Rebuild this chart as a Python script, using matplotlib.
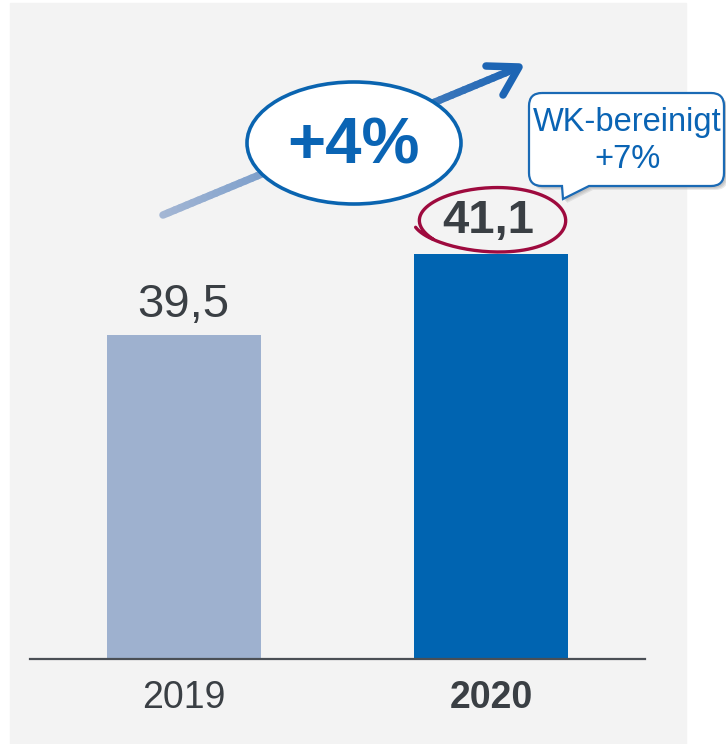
import numpy as np
import matplotlib
matplotlib.use("Agg")
import matplotlib.pyplot as plt
from matplotlib.patches import Rectangle, Ellipse, PathPatch
from matplotlib.path import Path
from matplotlib.collections import LineCollection

plt.rcParams['font.family'] = ['Liberation Sans', 'DejaVu Sans']

years = ["2019", "2020"]
values = [39.5, 41.1]
value_labels = ["39,5", "41,1"]
bar_colors = ["#9eb1cf", "#0064b1"]
growth_label = "+4%"
callout_lines = ["WK-bereinigt", "+7%"]

W, H = 726, 744
fig = plt.figure(figsize=(W / 100, H / 100), dpi=100)
fig.patch.set_facecolor("white")

# gray panel
fig.add_artist(Rectangle((10 / W, 0), (686 - 10) / W, (744 - 3) / H,
                         transform=fig.transFigure, color="#f3f3f3", zorder=-5))

# main bar axes: x 30..645 px, y 659..3 px
ax = fig.add_axes([30 / W, (H - 659) / H, (645 - 30) / W, (659 - 3) / H])
ax.set_facecolor("none")
x = np.arange(len(years))
ax.bar(x, values, width=0.5, color=bar_colors, zorder=2)
ax.set_xlim(-0.5, 1.5)
ax.set_ylim(33.1, 46.06)
for s in ["top", "right", "left"]:
    ax.spines[s].set_visible(False)
ax.spines["bottom"].set_color("#4a4f55")
ax.spines["bottom"].set_linewidth(1.6)
ax.set_yticks([])
ax.set_xticks(x)
ax.set_xticklabels(years, fontsize=27, color="#3a3f44")
ax.get_xticklabels()[1].set_fontweight("bold")
ax.tick_params(axis="x", length=0, pad=15)

ax.annotate(value_labels[0], (x[0], values[0]), xytext=(0, 6), textcoords="offset points",
            ha="center", va="bottom", fontsize=34, color="#3a3f44")
ax.annotate(value_labels[1], (x[1] - 0.01, values[1]), xytext=(0, 8), textcoords="offset points",
            ha="center", va="bottom", fontsize=34, color="#3a3f44", fontweight="bold")

# overlay in pixel coordinates
ov = fig.add_axes([0, 0, 1, 1], zorder=5)
ov.set_xlim(0, W)
ov.set_ylim(H, 0)
ov.axis("off")
ov.set_facecolor("none")

# gradient arrow
p0 = np.array([163, 215.0])
p1 = np.array([517, 68.0])
n = 60
ts = np.linspace(0, 1, n + 1)
pts = p0 + (p1 - p0) * ts[:, None]
segs = [[pts[i], pts[i + 1]] for i in range(n)]
c0 = np.array(matplotlib.colors.to_rgb("#a3b6d4"))
c1 = np.array(matplotlib.colors.to_rgb("#1d65b4"))
cols = [c0 + (c1 - c0) * t for t in ts[:-1]]
ov.add_collection(LineCollection(segs, colors=cols, linewidths=5.4, capstyle="round", zorder=1))
ov.plot([486, 519, 503], [66, 67, 95], color="#1d65b4", lw=5.4,
        solid_capstyle="round", solid_joinstyle="round", zorder=1)

# +4% ellipse
ov.add_patch(Ellipse((354, 143), 214, 122, facecolor="white", edgecolor="#0a64b0", lw=2.6, zorder=3))
ov.text(354, 146, growth_label, ha="center", va="center", fontsize=47, fontweight="bold",
        color="#0a64b4", zorder=4)

# hand-drawn red loop around 41,1
t = np.linspace(np.deg2rad(195), np.deg2rad(195 + 380), 200)
frac = (t - t[0]) / (t[-1] - t[0])
rx = 77 - 5 * frac
ry = 31 + 3 * frac
cx = 490 + 2 * frac
cy = 220 + 1 * frac
xs = cx + rx * np.cos(t)
ys = cy - ry * np.sin(t) - 6 * np.cos(t) * np.sin(t) * 0.5
ov.plot(xs, ys, color="#9e0a3e", lw=2.4, solid_capstyle="round", zorder=3)

# callout box
def callout_path(x0, y0, x1, y1, r, tx0, tx1, tip):
    verts = [
        (x0 + r, y0), (x1 - r, y0), (x1, y0), (x1, y0 + r),
        (x1, y1 - r), (x1, y1), (x1 - r, y1),
        (tx1, y1), tip, (tx0, y1),
        (x0 + r, y1), (x0, y1), (x0, y1 - r),
        (x0, y0 + r), (x0, y0), (x0 + r, y0),
    ]
    codes = [Path.MOVETO, Path.LINETO, Path.CURVE3, Path.CURVE3,
             Path.LINETO, Path.CURVE3, Path.CURVE3,
             Path.LINETO, Path.LINETO, Path.LINETO,
             Path.LINETO, Path.CURVE3, Path.CURVE3,
             Path.LINETO, Path.CURVE3, Path.CURVE3]
    return Path(verts, codes)

for k, a in [(4, 0.25), (3, 0.3), (2, 0.35)]:
    shadow = callout_path(529 + k, 93 + k, 724 + k, 186 + k, 13, 562 + k, 589 + k, (563 + k, 199 + k))
    ov.add_patch(PathPatch(shadow, facecolor="#a8a8a8", edgecolor="none", alpha=a, zorder=3))
box = callout_path(529, 93, 724, 186, 13, 562, 589, (563, 199))
ov.add_patch(PathPatch(box, facecolor="white", edgecolor="#1a6ab5", lw=1.6, zorder=4))
ov.text(627, 122, callout_lines[0], ha="center", va="center", fontsize=23.5, color="#0a64b4", zorder=5)
ov.text(627, 160, callout_lines[1], ha="center", va="center", fontsize=23.5, color="#0a64b4", zorder=5)

fig.savefig("out.png", dpi=100)
